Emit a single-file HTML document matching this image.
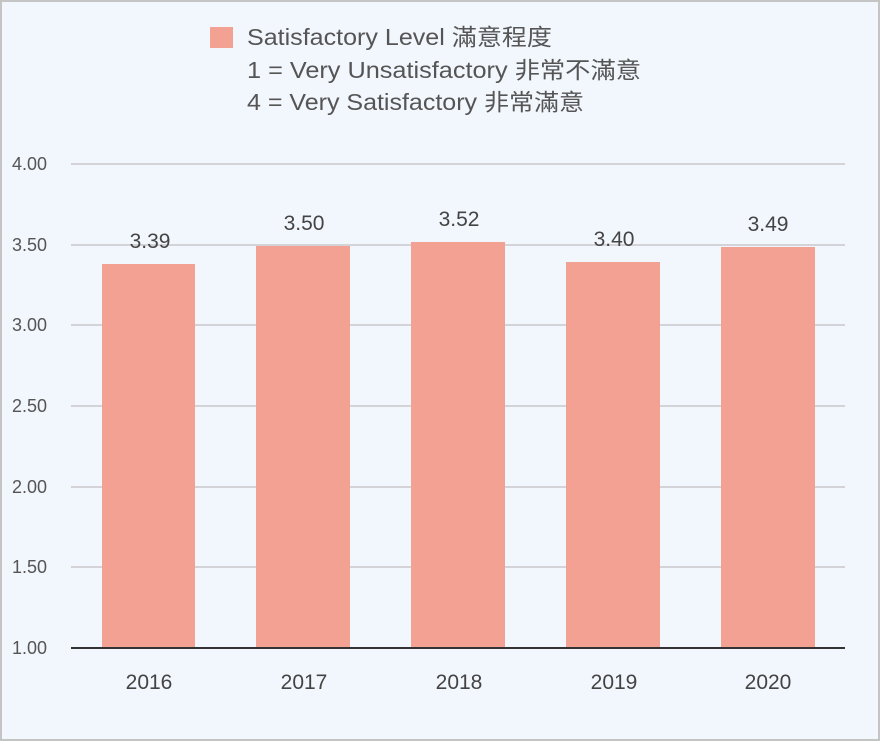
<!DOCTYPE html>
<html><head><meta charset="utf-8"><style>
body{margin:0;width:880px;height:741px;overflow:hidden;background:#fff}
</style></head><body>
<svg width="880" height="741" xmlns="http://www.w3.org/2000/svg" font-family="'Liberation Sans','Noto Sans CJK TC',sans-serif">
<rect x="1" y="1" width="878" height="739" fill="#f2f6fd" stroke="#c4c4c4" stroke-width="2"/>
<rect x="210" y="27" width="23" height="21" fill="#f2a192"/>
<g font-size="23" fill="#555">
<text x="247" y="45" textLength="305" lengthAdjust="spacingAndGlyphs">Satisfactory Level 滿意程度</text>
<text x="247" y="78" textLength="394" lengthAdjust="spacingAndGlyphs">1 = Very Unsatisfactory 非常不滿意</text>
<text x="247" y="110" textLength="337" lengthAdjust="spacingAndGlyphs">4 = Very Satisfactory 非常滿意</text>
</g>
<g stroke="#d4d4d8" stroke-width="2">
<line x1="71" x2="845" y1="164" y2="164"/><line x1="71" x2="845" y1="245" y2="245"/>
<line x1="71" x2="845" y1="325" y2="325"/><line x1="71" x2="845" y1="406" y2="406"/>
<line x1="71" x2="845" y1="487" y2="487"/><line x1="71" x2="845" y1="567" y2="567"/>
</g>
<g font-size="18" fill="#555" text-anchor="end">
<text x="47" y="170">4.00</text><text x="47" y="251">3.50</text><text x="47" y="331">3.00</text>
<text x="47" y="412">2.50</text><text x="47" y="493">2.00</text><text x="47" y="573">1.50</text><text x="47" y="654">1.00</text>
</g>
<g fill="#f2a192">
<rect x="102" y="264" width="93" height="384"/>
<rect x="256" y="246" width="94" height="402"/>
<rect x="411" y="242" width="94" height="406"/>
<rect x="566" y="262" width="94" height="386"/>
<rect x="721" y="247" width="94" height="401"/>
</g>
<line x1="71" x2="845" y1="648" y2="648" stroke="#333" stroke-width="2"/>
<g font-size="21" fill="#444" text-anchor="middle">
<text x="150" y="248">3.39</text><text x="304" y="230">3.50</text><text x="459" y="226">3.52</text>
<text x="614" y="246">3.40</text><text x="768" y="231">3.49</text>
<text x="149" y="689">2016</text><text x="304" y="689">2017</text><text x="459" y="689">2018</text>
<text x="614" y="689">2019</text><text x="768" y="689">2020</text>
</g>
</svg>
</body></html>
